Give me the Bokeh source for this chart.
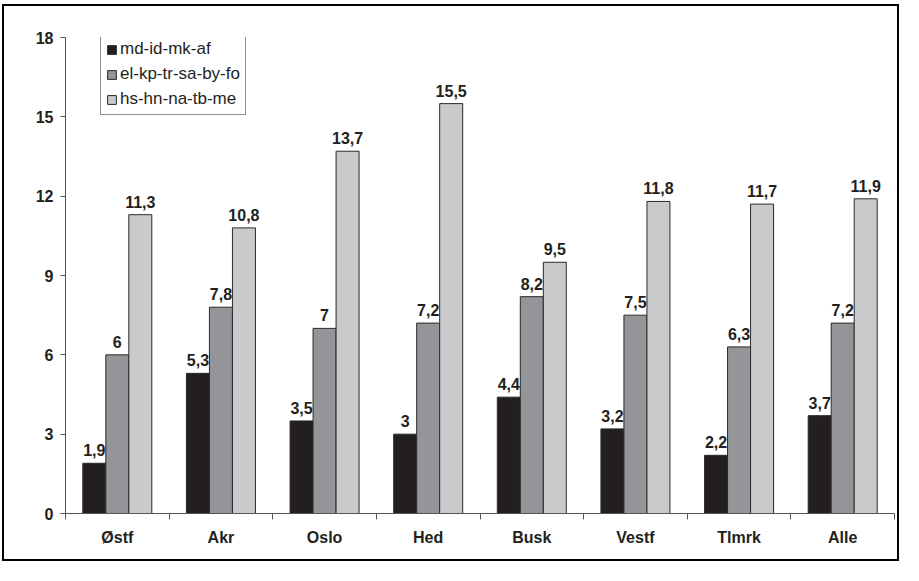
from bokeh.plotting import figure
from bokeh.models import FixedTicker, Legend, LegendItem, ColumnDataSource, LabelSet, Range1d
from bokeh.core.properties import value
from bokeh.embed import file_html
from bokeh.resources import INLINE

categories = ["Østf", "Akr", "Oslo", "Hed", "Busk", "Vestf", "Tlmrk", "Alle"]
series_names = ["md-id-mk-af", "el-kp-tr-sa-by-fo", "hs-hn-na-tb-me"]
s1 = [1.9, 5.3, 3.5, 3.0, 4.4, 3.2, 2.2, 3.7]
s2 = [6.0, 7.8, 7.0, 7.2, 8.2, 7.5, 6.3, 7.2]
s3 = [11.3, 10.8, 13.7, 15.5, 9.5, 11.8, 11.7, 11.9]
y_ticks = [0, 3, 6, 9, 12, 15, 18]

colors = ["#231f20", "#939598", "#c9cacc"]
FONT = "Liberation Sans"

p = figure(width=897, height=557, output_backend="svg", toolbar_location=None,
           x_range=Range1d(0, len(categories)), y_range=Range1d(0, 18),
           min_border_left=61, min_border_top=31, min_border_right=7, min_border_bottom=50)
p.styles = {"border": "2px solid #000", "margin-top": "4px", "margin-left": "2px"}
p.outline_line_color = None
p.xgrid.visible = False
p.ygrid.visible = False

bw = 0.222
offsets = [-bw, 0.0, bw]
items = []
for k, (vals, name) in enumerate(zip([s1, s2, s3], series_names)):
    xs = [i + 0.5 + offsets[k] for i in range(len(categories))]
    src = ColumnDataSource(dict(x=xs, top=vals,
                                lab=[("%g" % v).replace(".", ",") for v in vals]))
    r = p.vbar(x="x", top="top", width=bw, bottom=0, source=src,
               fill_color=colors[k], line_color="#2a2a2a", line_width=1)
    items.append(LegendItem(label=name, renderers=[r]))
    p.add_layout(LabelSet(x="x", y="top", text="lab", source=src,
                          text_align="center", text_baseline="bottom", y_offset=7,
                          text_font=value(FONT), text_font_style="bold",
                          text_font_size="16px", text_color="#231f20"))

# axes
xa = p.xaxis[0]
xa.ticker = FixedTicker(ticks=[i + 0.5 for i in range(len(categories))],
                        minor_ticks=list(range(len(categories) + 1)))
xa.major_label_overrides = {i + 0.5: c for i, c in enumerate(categories)}
xa.major_tick_out = 0
xa.major_tick_in = 0
xa.minor_tick_out = 6
xa.minor_tick_in = 0
xa.minor_tick_line_color = "#555555"
xa.axis_line_color = "#555555"
xa.major_label_standoff = 9
xa.major_label_text_font = FONT
xa.major_label_text_font_style = "bold"
xa.major_label_text_font_size = "16px"
xa.major_label_text_color = "#231f20"

ya = p.yaxis[0]
ya.ticker = FixedTicker(ticks=y_ticks, minor_ticks=[])
ya.major_tick_out = 5
ya.major_tick_in = 0
ya.major_tick_line_color = "#555555"
ya.axis_line_color = "#555555"
ya.major_label_standoff = 7
ya.major_label_text_font = FONT
ya.major_label_text_font_style = "bold"
ya.major_label_text_font_size = "16px"
ya.major_label_text_color = "#231f20"

legend = Legend(items=items, location=(35, 398), orientation="vertical",
                border_line_color="#231f20", border_line_width=1,
                background_fill_color="white", background_fill_alpha=1,
                label_text_font=FONT, label_text_font_size="17px",
                label_text_color="#231f20", glyph_width=11, glyph_height=11,
                label_standoff=3, label_height=18, spacing=5, padding=5, margin=0)
p.add_layout(legend, "center")

open("out.html", "w").write(file_html(p, INLINE))
